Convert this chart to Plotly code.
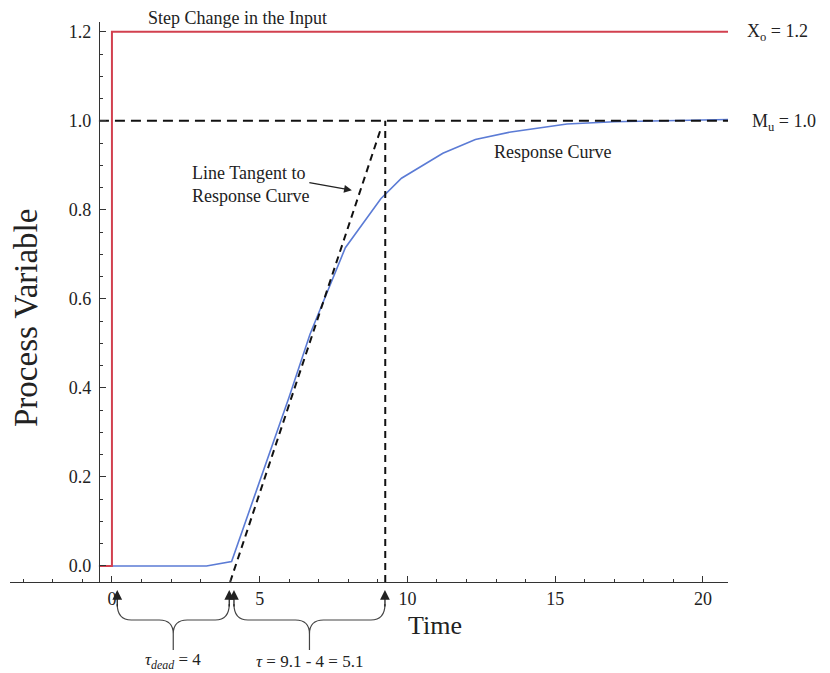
import plotly.graph_objects as go

# ---------------- data ----------------
step_t = [-0.44, 0.0, 0.0, 20.85]
step_y = [0.0, 0.0, 1.2, 1.2]

resp_t = [-0.44, 3.2, 4.05, 5.0, 6.0, 6.7, 7.9, 9.1, 9.8, 11.2, 12.3, 13.5, 15.4, 17.0, 18.6, 20.85]
resp_y = [0.0, 0.0, 0.01, 0.19, 0.38, 0.52, 0.715, 0.825, 0.871, 0.927, 0.958, 0.975, 0.993, 0.998, 1.0, 1.003]

tangent_t = [4.0, 9.08]
tangent_y = [-0.036, 0.978]

final_level = 1.0
level_t = [-0.44, 20.85]
tau_end_t = 9.25

x_ticks = [0, 5, 10, 15, 20]

# bottom arrows (t positions) and braces (start, end)
arrow_t = [0.18, 3.97, 4.13, 9.24]
braces = [(0.18, 3.97), (4.13, 9.24)]
brace_labels = ["<i>τ<sub>dead</sub></i> = 4", "<i>τ</i> = 9.1 - 4 = 5.1"]

XMIN, XMAX = -3.45, 20.85
YMIN, YMAX = -0.036, 1.222

FONT = "Liberation Serif"
INK = "#222222"

fig = go.Figure()

fig.add_trace(go.Scatter(x=resp_t, y=resp_y, mode="lines",
                         line=dict(color="#5b7bd5", width=1.6), hoverinfo="skip"))
fig.add_trace(go.Scatter(x=level_t, y=[final_level, final_level], mode="lines",
                         line=dict(color="#111111", width=2, dash="10px,6px"), hoverinfo="skip"))
fig.add_trace(go.Scatter(x=tangent_t, y=tangent_y, mode="lines",
                         line=dict(color="#111111", width=2, dash="7px,5px"), hoverinfo="skip"))
fig.add_trace(go.Scatter(x=[tau_end_t, tau_end_t], y=[YMIN, final_level], mode="lines",
                         line=dict(color="#111111", width=2, dash="7px,5px"), hoverinfo="skip"))
fig.add_trace(go.Scatter(x=step_t, y=step_y, mode="lines",
                         line=dict(color="#d2404f", width=2), hoverinfo="skip"))

# page body has an 8px margin; layout works in window pixels minus this offset
OFF = 8
W, H = 830 - OFF, 673 - OFF
PLOT_L, PLOT_R, PLOT_T, PLOT_B = 10, 728, 22, 582  # window pixels
ML, MR, MT, MB = PLOT_L - OFF, W - (PLOT_R - OFF), PLOT_T - OFF, H - (PLOT_B - OFF)
PW, PH = W - ML - MR, H - MT - MB


def px_to_paper_x(px):
    return (px - PLOT_L) / PW


def py_to_paper_y(py):
    return (PLOT_B - py) / PH


def t_to_paper_x(t):
    return (t - XMIN) / (XMAX - XMIN)


def t_to_px(t):
    return PLOT_L + t_to_paper_x(t) * PW


ann = []
tf = dict(family=FONT, color=INK)


def label(text, px, py, size, xanchor="center", **kw):
    ann.append(dict(text=text, x=px_to_paper_x(px), y=py_to_paper_y(py), xref="paper", yref="paper",
                    xanchor=xanchor, yanchor="middle", showarrow=False, font=dict(size=size, **tf), **kw))


label("Step Change in the Input", 237, 18, 18)
label("X<sub>o</sub> = 1.2", 745, 32, 18, xanchor="left")
label("M<sub>u</sub> = 1.0", 750, 122, 18, xanchor="left")
label("Response Curve", 552, 152, 18)
label("Line Tangent to<br>Response Curve", 190, 185, 18, xanchor="left", align="left")
label("Time", 435, 625, 26)
label("Process Variable", 26, 318, 33, textangle=-90)

# arrow pointing to tangent line
ann.append(dict(text="", x=8.12, y=0.844, ax=6.63, ay=0.862, xref="x", yref="y", axref="x", ayref="y",
                showarrow=True, arrowhead=2, arrowsize=1.2, arrowwidth=1.3, arrowcolor=INK))

# bottom arrows
for t in arrow_t:
    ann.append(dict(text="", x=t, y=py_to_paper_y(590), xref="x", yref="paper",
                    ax=0, ay=18, showarrow=True, arrowhead=2, arrowsize=1.5, arrowwidth=1.3,
                    arrowcolor=INK))

shapes = []
for (a, b), lab in zip(braces, brace_labels):
    xa, xb = t_to_px(a), t_to_px(b)
    xm = (xa + xb) / 2
    y0, y1, y2, y3 = 604, 620, 634, 650
    r = 14
    pts = [
        ("M", xa, y0),
        ("Q", xa, y1, xa + r, y1),
        ("L", xm - r, y1),
        ("Q", xm, y1, xm, y2),
        ("L", xm, y3),
        ("M", xm, y2),
        ("Q", xm, y1, xm + r, y1),
        ("L", xb - r, y1),
        ("Q", xb, y1, xb, y0),
    ]
    path = ""
    for p in pts:
        cmd = p[0]
        coords = p[1:]
        s = []
        for i in range(0, len(coords), 2):
            s.append(f"{px_to_paper_x(coords[i]):.5f},{py_to_paper_y(coords[i+1]):.5f}")
        path += cmd + " " + " ".join(s) + " "
    shapes.append(dict(type="path", path=path.strip(), xref="paper", yref="paper",
                       line=dict(color="#444444", width=1.2)))
    label(lab, xm, 661, 17)

fig.update_layout(
    width=W, height=H,
    margin=dict(l=ML, r=MR, t=MT, b=MB, pad=0),
    paper_bgcolor="white", plot_bgcolor="white",
    showlegend=False,
    annotations=ann, shapes=shapes,
    xaxis=dict(range=[XMIN, XMAX], tickvals=x_ticks, ticktext=[str(v) for v in x_ticks],
               ticks="inside", ticklen=6, tickcolor="#333", tickwidth=1,
               minor=dict(ticks="inside", ticklen=3, dtick=1, tick0=0, tickcolor="#333", showgrid=False),
               showline=True, linecolor="#333", linewidth=1, showgrid=False, zeroline=False,
               tickfont=dict(family=FONT, size=18, color=INK), anchor="y"),
    yaxis=dict(range=[YMIN, YMAX], tick0=0, dtick=0.2, tickformat=".1f",
               ticks="inside", ticklen=6, tickcolor="#333", tickwidth=1,
               minor=dict(ticks="inside", ticklen=3, dtick=0.05, tick0=0, tickcolor="#333", showgrid=False),
               showline=True, linecolor="#333", linewidth=1, showgrid=False, zeroline=False,
               tickfont=dict(family=FONT, size=18, color=INK),
               anchor="free", position=t_to_paper_x(-0.44), ticklabelstandoff=4),
)

fig.write_html("out.html")
